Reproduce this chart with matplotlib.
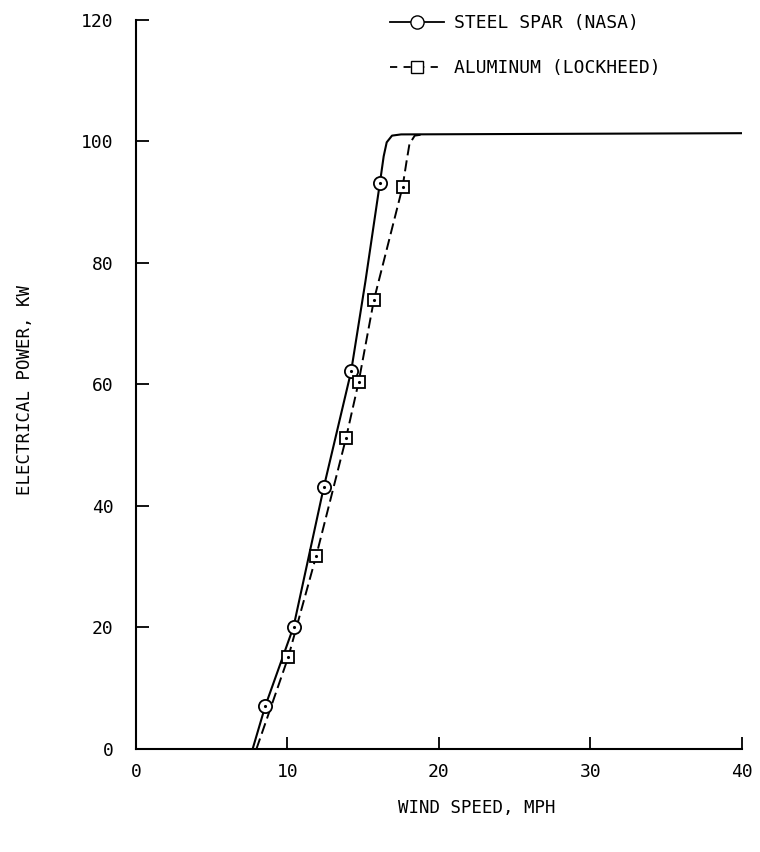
import matplotlib.pyplot as plt
from matplotlib.lines import Line2D

plt.rcParams['font.family'] = ['DejaVu Sans Mono']

# Power curves
steel_curve_x = [7.7, 8.54, 10.4, 12.4, 14.2, 15.15, 16.1, 16.35, 16.55, 16.9, 17.5, 40.0]
steel_curve_y = [0.0, 7.1, 20.1, 43.1, 62.1, 77.0, 93.1, 97.5, 99.8, 100.9, 101.1, 101.3]
alum_curve_x = [7.95, 10.05, 11.9, 13.86, 14.7, 15.7, 17.6, 17.85, 18.05, 18.4, 19.0]
alum_curve_y = [0.0, 15.1, 31.8, 51.1, 60.4, 73.8, 92.5, 96.5, 99.5, 100.9, 101.1]

# Measured points
steel_x = [8.54, 10.4, 12.4, 14.2, 16.1]
steel_y = [7.1, 20.1, 43.1, 62.1, 93.1]
alum_x = [10.05, 11.9, 13.86, 14.7, 15.7, 17.6]
alum_y = [15.1, 31.8, 51.1, 60.4, 73.8, 92.5]

fig = plt.figure(figsize=(7.6, 8.52), dpi=100)
ax = fig.add_axes([0.1789, 0.1209, 0.7974, 0.8562])

ax.plot(steel_curve_x, steel_curve_y, color='black', lw=1.5, zorder=2)
ax.plot(alum_curve_x, alum_curve_y, color='black', lw=1.4, dashes=(5.7, 2.6), zorder=2)

ax.plot(steel_x, steel_y, 'o', ms=9.5, mfc='white', mec='black', mew=1.3, zorder=3)
ax.plot(alum_x, alum_y, 's', ms=8.5, mfc='white', mec='black', mew=1.3, zorder=3)
ax.plot(steel_x + alum_x, steel_y + alum_y, '.', ms=2.5, color='black', zorder=4)

ax.set_xlim(0, 40)
ax.set_ylim(0, 120)
ax.set_xticks([0, 10, 20, 30, 40])
ax.set_yticks([0, 20, 40, 60, 80, 100, 120])
ax.spines['top'].set_visible(False)
ax.spines['right'].set_visible(False)
for s in ('left', 'bottom'):
    ax.spines[s].set_linewidth(1.5)
ax.tick_params(axis='both', direction='in', length=9, width=1.3, labelsize=13)
ax.tick_params(axis='y', pad=16)
ax.tick_params(axis='x', pad=10)

ax.set_xlabel('WIND SPEED, MPH', fontsize=12.5)
ax.xaxis.set_label_coords((477 - 136) / 606, -(808 - 749) / 729.5)
ax.set_ylabel('ELECTRICAL POWER, KW', fontsize=12.5)
ax.yaxis.set_label_coords(-(136 - 25) / 606, (749 - 390) / 729.5)
ax.yaxis.label.set_va('center')
ax.xaxis.label.set_va('center')

handles = [
    Line2D([], [], color='black', lw=1.3, marker='o', ms=9.5, mfc='white', mec='black'),
    Line2D([], [], color='black', lw=1.3, dashes=(4, 3.5), marker='s', ms=8.5, mfc='white', mec='black'),
]
fig.legend(handles, ['STEEL SPAR (NASA)', 'ALUMINUM (LOCKHEED)'],
           loc='upper left', bbox_to_anchor=(390 / 760, 1 - 14 / 852), frameon=False,
           borderpad=0, borderaxespad=0, fontsize=13,
           handlelength=3.0, handletextpad=0.55, labelspacing=1.5)

fig.savefig('out.png', dpi=100)
